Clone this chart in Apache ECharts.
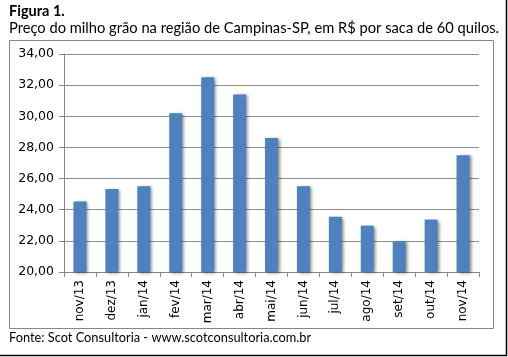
<!DOCTYPE html>
<html><head><meta charset="utf-8">
<script src="https://cdn.jsdelivr.net/npm/echarts@6/dist/echarts.min.js"></script>
<style>html,body{margin:0;padding:0;background:#fff}#c{width:508px;height:357px}</style>
</head><body><div id="c"></div>
<script>
const categories = ['nov/13','dez/13','jan/14','fev/14','mar/14','abr/14','mai/14','jun/14','jul/14','ago/14','set/14','out/14','nov/14'];
const prices = [24.53, 25.33, 25.5, 30.2, 32.5, 31.4, 28.6, 25.5, 23.55, 22.98, 21.97, 23.37, 27.5];
const yTicks = {min: 20, max: 34, interval: 2};
const titleText = 'Figura 1.';
const subtitleText = 'Preço do milho grão na região de Campinas-SP, em R$ por saca de 60 quilos.';
const sourceText = 'Fonte: Scot Consultoria - www.scotconsultoria.com.br';

const chart = echarts.init(document.getElementById('c'), null, {renderer: 'canvas'});
chart.setOption({
  animation: false,
  backgroundColor: '#fff',
  grid: {left: 64, right: 29, top: 54, bottom: 85, containLabel: false},
  xAxis: {
    type: 'category', data: categories,
    axisLine: {lineStyle: {color: '#868686', width: 1}},
    axisTick: {show: true, alignWithLabel: false, length: 5, lineStyle: {color: '#868686'}},
    axisLabel: {rotate: 90, fontFamily: 'DejaVu Sans', fontSize: 12, color: '#000', margin: 8}
  },
  yAxis: {
    type: 'value', min: yTicks.min, max: yTicks.max, interval: yTicks.interval,
    axisLine: {show: true, lineStyle: {color: '#868686', width: 1}},
    axisTick: {show: true, length: 5, lineStyle: {color: '#868686'}},
    splitLine: {lineStyle: {color: '#8c8c8c', width: 1}},
    axisLabel: {fontFamily: 'DejaVu Sans', fontSize: 12.5, color: '#000', margin: 10,
      formatter: v => v.toFixed(2).replace('.', ',')}
  },
  series: [{
    type: 'bar', data: prices, barWidth: 13,
    itemStyle: {color: '#4f81bd', shadowColor: 'rgba(0,0,0,0.45)', shadowBlur: 3, shadowOffsetX: 2, shadowOffsetY: 1}
  }],
  graphic: [
    {type: 'rect', shape: {x: 9.5, y: 40.5, width: 484, height: 288}, style: {fill: 'none', stroke: '#868686', lineWidth: 1}, z: -1},
    {type: 'line', shape: {x1: 506.5, y1: 0, x2: 506.5, y2: 356}, style: {stroke: '#000', lineWidth: 1.5}},
    {type: 'line', shape: {x1: 0, y1: 355.5, x2: 507, y2: 355.5}, style: {stroke: '#000', lineWidth: 1.5}},
    {type: 'text', left: 9, top: 4, style: {text: titleText, font: 'bold 14.5px Lato', fill: '#000'}},
    {type: 'text', left: 9, top: 21, style: {text: subtitleText, font: '14.7px Lato', fill: '#000'}},
    {type: 'text', left: 9, top: 331, style: {text: sourceText, font: '12.8px Lato', fill: '#000'}}
  ]
});
</script></body></html>
